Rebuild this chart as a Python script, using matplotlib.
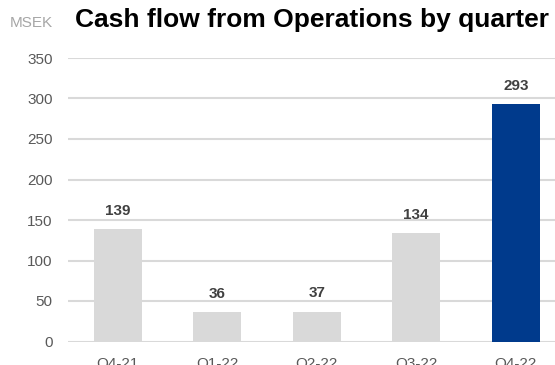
import matplotlib.pyplot as plt

# data
quarters = ["Q4-21", "Q1-22", "Q2-22", "Q3-22", "Q4-22"]
cash_flow = [139, 36, 37, 134, 293]
bar_colors = ["#d9d9d9", "#d9d9d9", "#d9d9d9", "#d9d9d9", "#003a8c"]
yticks = [0, 50, 100, 150, 200, 250, 300, 350]

plt.rcParams['font.family'] = ['Liberation Sans', 'DejaVu Sans']

fig = plt.figure(figsize=(5.55, 3.65), dpi=100)
ax = fig.add_axes([68 / 555, 23.5 / 365, 497.5 / 555, 283.5 / 365])

x = range(len(quarters))
bars = ax.bar(x, cash_flow, width=0.48, color=bar_colors, zorder=3)

for xi, v in zip(x, cash_flow):
    ax.annotate(str(v), (xi, v), xytext=(0, 8), textcoords="offset points",
                ha="center", va="bottom", fontsize=11, fontweight="bold",
                color="#404040")

ax.set_xlim(-0.5, 4.5)
ax.set_ylim(0, 350)
ax.set_yticks(yticks)
ax.set_xticks(list(x))
ax.set_xticklabels(quarters)
ax.tick_params(axis="both", length=0, labelsize=11, labelcolor="#595959")
ax.tick_params(axis="y", pad=11)
ax.tick_params(axis="x", pad=11)

ax.grid(axis="y", color="#d9d9d9", linewidth=1.5, zorder=0)
for s in ax.spines.values():
    s.set_visible(False)

fig.text(10 / 555, 1 - 23 / 365, "MSEK", fontsize=11, color="#a6a6a6",
         ha="left", va="center")
fig.text(312 / 555, 1 - 20 / 365, "Cash flow from Operations by quarter",
         fontsize=19, fontweight="bold", color="black", ha="center", va="center")

fig.savefig("out.png", dpi=100)
